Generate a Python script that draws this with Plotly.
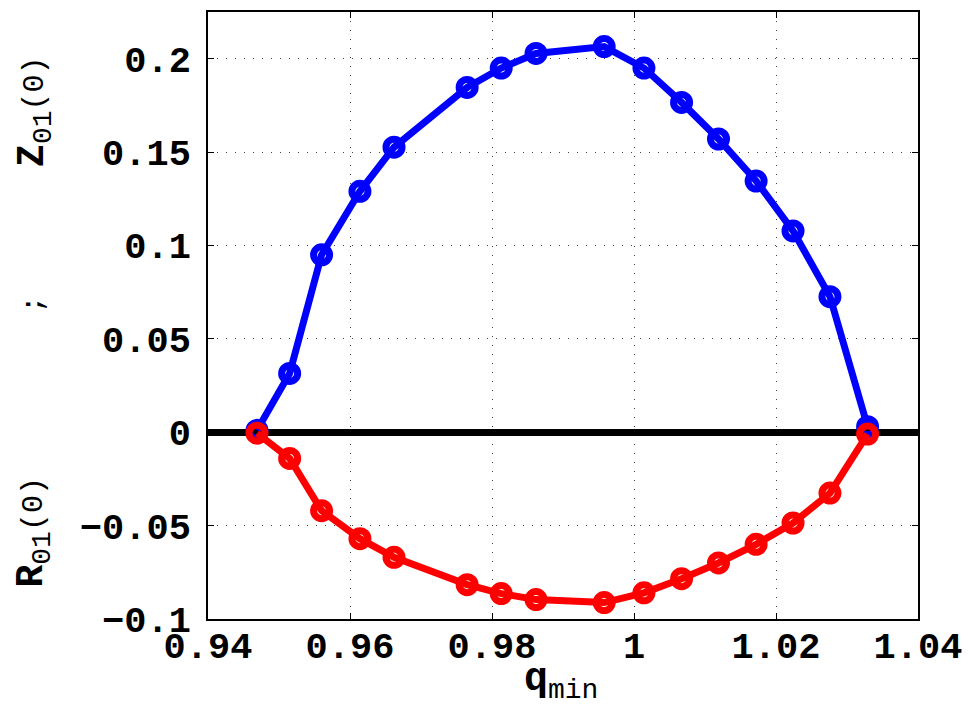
import plotly.graph_objects as go

q_min = [0.9469, 0.9515, 0.9560, 0.9614, 0.9662, 0.9765, 0.9813, 0.9862,
         0.9958, 1.0014, 1.0067, 1.0119, 1.0172, 1.0224, 1.0276, 1.0329]
z01 = [0.001, 0.0315, 0.095, 0.129, 0.1526, 0.1846, 0.195, 0.2028,
       0.2065, 0.195, 0.1766, 0.157, 0.1345, 0.1078, 0.0726, 0.003]
r01 = [-0.0005, -0.014, -0.042, -0.057, -0.067, -0.0816, -0.0864, -0.0896,
       -0.0912, -0.086, -0.0784, -0.070, -0.060, -0.0486, -0.0326, -0.001]

x_ticks = [0.94, 0.96, 0.98, 1.0, 1.02, 1.04]
x_tick_labels = ["0.94", "0.96", "0.98", "1", "1.02", "1.04"]
y_ticks = [-0.1, -0.05, 0, 0.05, 0.1, 0.15, 0.2]
y_tick_labels = ["\u22120.1", "\u22120.05", "0", "0.05", "0.1", "0.15", "0.2"]

FONT = "Liberation Mono"
TICK = dict(family=FONT, size=37, weight="bold", color="black")
GRID = dict(showgrid=True, gridcolor="#444444", griddash="1px,8px", gridwidth=1.2)

fig = go.Figure()
fig.add_trace(go.Scatter(
    x=q_min, y=z01, mode="lines+markers",
    line=dict(color="#0000ff", width=7),
    marker=dict(symbol="circle-open", size=16, color="#0000ff",
                line=dict(width=7, color="#0000ff")),
    showlegend=False))
fig.add_trace(go.Scatter(
    x=q_min, y=r01, mode="lines+markers",
    line=dict(color="#ff0000", width=7),
    marker=dict(symbol="circle-open", size=16, color="#ff0000",
                line=dict(width=7, color="#ff0000")),
    showlegend=False))

fig.update_layout(
    width=972, height=705,
    margin=dict(l=208, r=49, t=10, b=86),
    plot_bgcolor="white", paper_bgcolor="white",
    font=dict(family=FONT, size=30, color="black"),
    xaxis=dict(range=[0.94, 1.04], tickvals=x_ticks, ticktext=x_tick_labels,
               showline=True, linecolor="black", linewidth=1.5, mirror="ticks",
               ticks="inside", ticklen=6, tickcolor="black", tickwidth=1,
               tickfont=TICK, zeroline=False, ticklabelstandoff=-7, **GRID),
    yaxis=dict(range=[-0.1, 0.225], tickvals=y_ticks, ticktext=y_tick_labels,
               showline=True, linecolor="black", linewidth=1.5, mirror="ticks",
               ticks="inside", ticklen=6, tickcolor="black", tickwidth=1,
               tickfont=TICK,
               zeroline=True, zerolinecolor="black", zerolinewidth=7,
               ticklabelstandoff=8, **GRID),
)

SUB = '<sub><span style="font-size:28px">{}</span></sub>'

fig.add_annotation(text="<b>q</b>" + SUB.format("min"), xref="paper", yref="paper",
                   x=0.497, y=-(655 - 619) / 609, yanchor="top", xanchor="center",
                   showarrow=False, font=dict(family=FONT, size=40))
fig.add_annotation(text='<b>R</b>' + SUB.format("01") + '<span style="font-size:30px">(0)</span>',
                   xref="paper", yref="paper",
                   x=-(208 - 33) / 715, y=(619 - 532) / 609, textangle=-90,
                   xanchor="center", yanchor="middle", showarrow=False,
                   font=dict(family=FONT, size=38))
fig.add_annotation(text=";", xref="paper", yref="paper",
                   x=-(208 - 33) / 715, y=(619 - 303) / 609, textangle=-90,
                   xanchor="center", yanchor="middle", showarrow=False,
                   font=dict(family=FONT, size=30))
fig.add_annotation(text='<b>Z</b>' + SUB.format("01") + '<span style="font-size:30px">(0)</span>',
                   xref="paper", yref="paper",
                   x=-(208 - 33) / 715, y=(619 - 110) / 609, textangle=-90,
                   xanchor="center", yanchor="middle", showarrow=False,
                   font=dict(family=FONT, size=38))

fig.write_html("out.html")
